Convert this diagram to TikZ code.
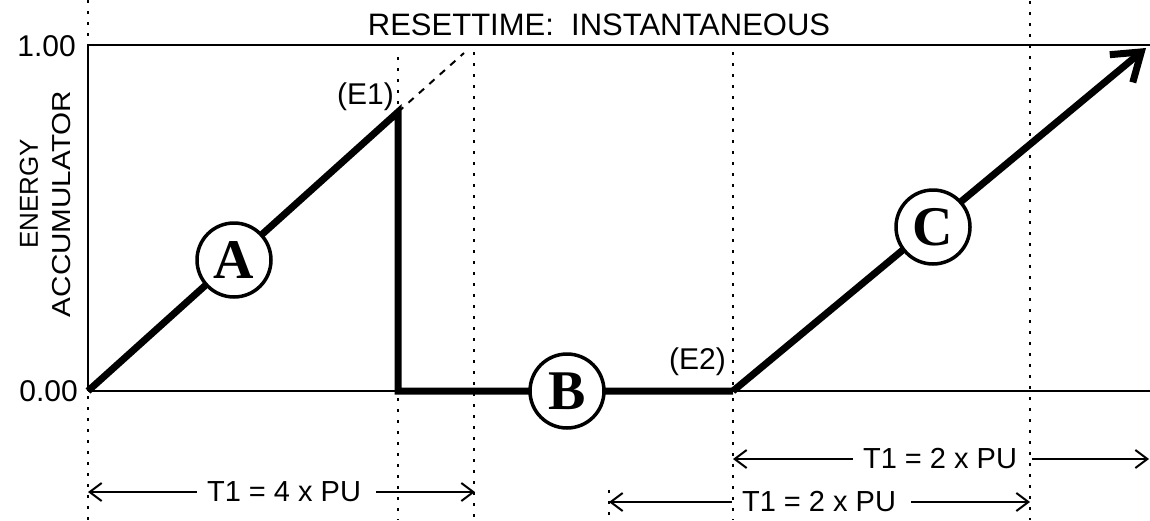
\documentclass[tikz,border=0pt]{standalone}
\usepackage{fontspec}
\setmainfont{Liberation Sans}
\newfontfamily\serifbold{Liberation Serif}
\usetikzlibrary{arrows.meta}
\begin{document}
\begin{tikzpicture}[x=1pt,y=-1pt,
  axisline/.style={line width=2.5pt},
  dotline/.style={line width=2.5pt, dash pattern=on 2.5pt off 8.5pt},
  curve/.style={line width=7pt},
  letter/.style={circle, draw, line width=3.5pt, fill=white, minimum size=74pt, inner sep=0pt,
    font=\serifbold\bfseries\fontsize{56}{56}\selectfont},
  lbl/.style={font=\fontsize{30}{30}\selectfont, inner sep=0pt},
  dimlbl/.style={font=\fontsize{29}{29}\selectfont, inner sep=0pt},
  dimline/.style={line width=2pt, -{Straight Barb[length=12pt,width=18pt]}},
]
\useasboundingbox (0,0) rectangle (1150,520);

% key points
\coordinate (O) at (88,391);
\coordinate (TL) at (88,45);
\coordinate (TR) at (1150,45);
\coordinate (BR) at (1150,391);
\coordinate (E1) at (398,112);
\coordinate (R1) at (398,391);
\coordinate (E2) at (733,391);
\coordinate (Cend) at (1146,48);
\coordinate (D1) at (464,53);

% dotted guides
\draw[dotline] (88,0) -- (88,40);
\draw[dotline] (88,396) -- (88,520);
\draw[dotline] (398,57) -- (398,108);
\draw[dotline] (398,398) -- (398,520);
\draw[dotline] (474,52) -- (474,520);
\draw[dotline] (733,52) -- (733,385);
\draw[dotline] (733,398) -- (733,520);
\draw[dotline] (1030,1) -- (1030,520);
\draw[dotline] (609,490) -- (609,520);

% axes
\draw[axisline] (O) -- (TL) -- (TR);
\draw[axisline] (O) -- (BR);

% dashed extension
\draw[line width=2pt, dash pattern=on 7pt off 7pt] (E1) -- (D1);

% main curve
\draw[curve] (O) -- (E1) -- (R1) -- (E2);
\draw[curve, -{Straight Barb[length=26pt,width=36pt]}] (E2) -- (Cend);

% circled letters
\node[letter] (A) at (234,260) {A};
\node[letter] (B) at (567,391) {B};
\node[letter] (C) at (933,227) {C};

% labels
\node[lbl, anchor=east] (v1) at (76,46) {1.00};
\node[lbl, anchor=east] (v0) at (78,391) {0.00};
\node[lbl, anchor=east] (e1l) at (394,97) {(E1)};
\node[lbl, anchor=east] (e2l) at (726,362) {(E2)};
\node[font=\fontsize{31}{31}\selectfont, inner sep=0pt] (title) at (599,25) {RESETTIME:\ \ INSTANTANEOUS};
\node[font=\fontsize{26}{26}\selectfont, inner sep=0pt, rotate=90] (en) at (29,194) {ENERGY};
\node[font=\fontsize{26}{26}\selectfont, inner sep=0pt, rotate=90] (ac) at (62,204) {\scalebox{1.14}[1]{ACCUMULATOR}};

% dimension lines
\node[dimlbl] (t1) at (284,492) {T1 = 4 x PU};
\coordinate (t1l) at (88,492);
\coordinate (t1r) at (475,492);
\draw[dimline] ([xshift=-10pt]t1.west) -- (t1l);
\draw[dimline] ([xshift=15pt]t1.east) -- (t1r);

\node[dimlbl] (t2) at (940,459) {T1 = 2 x PU};
\coordinate (t2l) at (733,459);
\coordinate (t2r) at (1149,459);
\draw[dimline] ([xshift=-10pt]t2.west) -- (t2l);
\draw[dimline] ([xshift=15pt]t2.east) -- (t2r);

\node[dimlbl] (t3) at (819,502) {T1 = 2 x PU};
\coordinate (t3l) at (609,502);
\coordinate (t3r) at (1030,502);
\draw[dimline] ([xshift=-10pt]t3.west) -- (t3l);
\draw[dimline] ([xshift=15pt]t3.east) -- (t3r);
\end{tikzpicture}
\end{document}
